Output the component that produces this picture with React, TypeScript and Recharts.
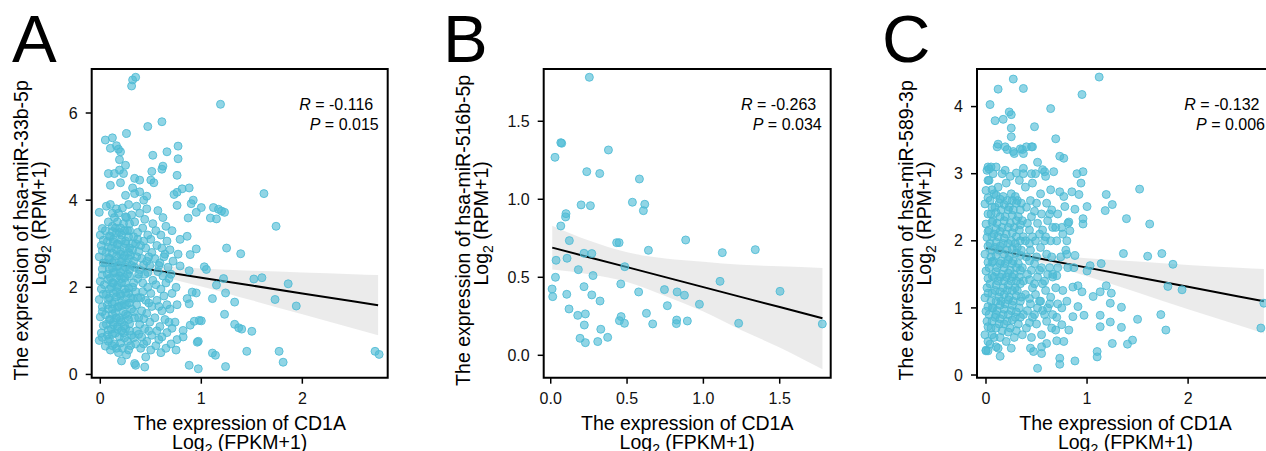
import React from 'react';
import { ComposedChart, Scatter, Line, Area, XAxis, YAxis, ReferenceArea } from 'recharts';

const FONT = '"Liberation Sans", Arial, Helvetica, sans-serif';
const POINT = '#4DBBD5';

// ---------- Panel A: hsa-miR-33b-5p ----------
const aPoints: [number, number][] = [
  [0.32,6.76],[0.35,6.82],[0.31,6.62],[1.19,6.2],[0.61,5.8],[0.47,5.69],[0.26,5.53],[0.05,5.38],[0.12,5.43],[0.10,5.19],
  [0.16,5.25],[0.18,5.17],[0.20,5.11],[0.77,5.24],[0.52,5.03],[0.66,5.11],[0.77,4.95],[0.19,4.93],[0.25,4.80],[0.51,4.66],
  [0.62,4.78],[0.61,4.71],[0.08,4.61],[0.14,4.61],[0.23,4.61],[0.19,4.69],[0.76,4.57],[0.50,4.46],[0.53,4.40],[0.34,4.50],
  [0.39,4.46],[0.10,4.34],[0.20,4.40],[0.32,4.28],[0.25,4.11],[0.34,4.15],[0.39,4.19],[0.73,4.13],[0.76,4.18],[0.81,4.26],
  [0.88,4.28],[1.62,4.15],[0.46,4.09],[0.43,4.00],[0.92,4.00],[0.90,3.92],[1.00,3.83],[0.95,3.72],[1.12,3.83],[1.17,3.79],
  [1.23,3.72],[1.20,3.75],[1.09,3.59],[1.15,3.57],[0.76,3.88],[0.87,3.59],[1.74,3.40],[0.79,3.10],[0.86,3.17],[0.95,2.88],
  [0.89,2.75],[1.25,2.90],[1.39,2.77],[1.03,2.47],[1.05,2.41],[0.79,2.49],[0.88,2.38],[1.52,2.19],[1.60,2.22],[1.86,2.08],
  [1.15,2.05],[1.22,2.20],[1.24,1.87],[1.33,1.66],[1.11,1.74],[1.73,1.72],[1.94,1.57],[0.91,1.89],[0.95,1.87],[0.86,1.74],
  [0.88,1.62],[1.23,1.38],[1.33,1.15],[1.37,1.07],[1.40,1.04],[1.50,0.99],[1.00,1.23],[0.93,1.22],[0.89,1.13],[0.82,1.01],
  [0.82,0.86],[0.97,0.76],[1.11,0.49],[1.14,0.44],[1.45,0.53],[1.77,0.53],[1.81,0.28],[2.72,0.53],[2.76,0.46],[0.88,0.21],
  [0.97,0.13],[1.24,0.18],[0.44,0.17],[0.34,0.25],[0.35,0.21],[0.21,0.31],[0.98,1.24],[0.96,0.74],
  [-0.01,0.78],[0.01,0.95],[0.0,1.32],[0.02,1.55],[-0.01,1.72],[0.01,1.96],[0.0,2.14],[0.02,2.42],[-0.01,2.7],[0.01,2.96],[0.0,3.2],[-0.01,3.72],
  [0.05,0.65],[0.07,0.9],[0.06,1.15],[0.05,1.37],[0.07,1.6],[0.06,1.84],[0.04,2.06],[0.07,2.3],[0.05,2.56],[0.06,2.8],[0.07,3.05],[0.05,3.3],[0.06,3.86],
  [0.1,0.56],[0.09,0.82],[0.11,1.04],[0.1,1.26],[0.12,1.5],[0.09,1.76],[0.11,2.0],[0.1,2.22],[0.12,2.45],[0.09,2.66],[0.11,2.9],[0.1,3.16],[0.12,3.4],[0.1,3.9],
  [0.14,0.7],[0.15,0.95],[0.13,1.2],[0.15,1.42],[0.14,1.66],[0.16,1.9],[0.13,2.1],[0.15,2.34],[0.14,2.6],[0.16,2.86],[0.13,3.1],[0.15,3.36],[0.14,3.6],[0.16,3.8],
  [0.18,0.5],[0.19,0.86],[0.17,1.1],[0.19,1.3],[0.18,1.56],[0.2,1.8],[0.17,2.04],[0.19,2.26],[0.18,2.5],[0.2,2.76],[0.17,3.0],[0.19,3.26],[0.18,3.7],
  [0.22,0.6],[0.23,0.95],[0.21,1.2],[0.23,1.44],[0.22,1.7],[0.24,1.96],[0.21,2.2],[0.23,2.4],[0.22,2.66],[0.24,2.9],[0.21,3.2],[0.23,3.46],[0.22,3.82],
  [0.26,0.45],[0.27,0.76],[0.25,1.05],[0.27,1.35],[0.26,1.6],[0.28,1.86],[0.25,2.1],[0.27,2.3],[0.26,2.56],[0.28,2.8],[0.25,3.06],[0.27,3.3],[0.26,3.6],[0.28,3.9],
  [0.3,0.66],[0.31,0.9],[0.29,1.16],[0.31,1.5],[0.3,1.76],[0.32,2.0],[0.29,2.26],[0.31,2.5],[0.3,2.74],[0.32,3.0],[0.29,3.3],[0.31,3.66],
  [0.35,0.7],[0.36,1.0],[0.34,1.3],[0.36,1.6],[0.35,1.9],[0.37,2.2],[0.34,2.46],[0.36,2.7],[0.35,3.0],[0.37,3.26],[0.34,3.5],[0.36,3.86],
  [0.4,0.6],[0.41,0.86],[0.39,1.15],[0.41,1.46],[0.4,1.76],[0.42,2.1],[0.39,2.4],[0.41,2.66],[0.4,2.96],[0.42,3.36],[0.39,3.7],
  [0.45,0.4],[0.46,0.76],[0.44,1.05],[0.46,1.4],[0.45,1.7],[0.47,2.0],[0.44,2.3],[0.46,2.6],[0.45,2.9],[0.47,3.2],[0.44,3.56],[0.46,3.8],
  [0.5,0.56],[0.51,0.9],[0.49,1.2],[0.51,1.56],[0.5,1.86],[0.52,2.16],[0.49,2.5],[0.51,2.8],[0.5,3.1],[0.52,3.46],
  [0.55,0.66],[0.56,1.0],[0.54,1.3],[0.56,1.7],[0.55,2.06],[0.57,2.36],[0.54,2.66],[0.56,2.96],[0.55,3.3],[0.57,3.76],
  [0.6,0.5],[0.61,0.86],[0.59,1.1],[0.61,1.46],[0.6,1.96],[0.62,2.26],[0.59,2.56],[0.61,2.9],[0.6,3.2],[0.62,3.6],
  [0.65,0.6],[0.66,0.96],[0.64,1.26],[0.66,1.6],[0.65,2.1],[0.67,2.46],[0.64,2.76],[0.66,3.06],[0.65,3.4],
  [0.7,0.7],[0.71,1.06],[0.69,1.5],[0.71,1.86],[0.7,2.3],[0.72,2.6],[0.69,2.86],[0.71,3.3],
  [0.75,0.56],[0.76,0.8],[0.74,1.2],[0.76,1.6],[0.75,2.0],[0.77,2.76],
  [0.02,0.85],[0.03,1.12],[0.02,1.44],[0.03,1.84],[0.02,2.28],[0.03,2.56],[0.02,2.84],[0.03,3.08],[0.02,3.35],
  [0.08,0.76],[0.08,1.02],[0.09,1.26],[0.08,1.5],[0.08,1.72],[0.09,1.96],[0.08,2.18],[0.09,2.42],[0.08,2.68],[0.08,2.92],[0.09,3.18],[0.08,3.5],
  [0.12,0.66],[0.12,0.92],[0.13,1.14],[0.12,1.38],[0.12,1.62],[0.13,1.86],[0.12,2.1],[0.13,2.34],[0.12,2.56],[0.12,2.78],[0.13,3.04],[0.12,3.28],[0.12,3.7],
  [0.16,0.6],[0.17,1.04],[0.16,1.3],[0.17,1.54],[0.16,1.78],[0.17,2.0],[0.16,2.22],[0.17,2.48],[0.16,2.72],[0.17,2.98],[0.16,3.24],[0.17,3.5],
  [0.2,0.72],[0.21,1.0],[0.2,1.24],[0.21,1.58],[0.2,1.84],[0.21,2.1],[0.2,2.34],[0.21,2.58],[0.2,2.82],[0.21,3.08],[0.2,3.36],
  [0.24,0.84],[0.24,1.12],[0.25,1.38],[0.24,1.62],[0.25,1.88],[0.24,2.22],[0.25,2.46],[0.24,2.72],[0.25,3.0],[0.24,3.3],[0.25,3.62],
  [0.28,0.56],[0.29,1.0],[0.28,1.26],[0.29,1.64],[0.28,1.98],[0.29,2.4],[0.28,2.66],[0.29,2.9],[0.28,3.16],[0.29,3.46],
  [0.33,0.84],[0.33,1.44],[0.32,1.74],[0.33,2.1],[0.33,2.6],[0.32,2.86],[0.33,3.16],
  [0.38,0.92],[0.38,1.3],[0.37,1.76],[0.38,2.3],[0.38,2.82],[0.37,3.1],
  [0.43,0.7],[0.43,1.28],[0.42,1.9],[0.43,2.52],[0.43,3.06],
  [0.48,1.0],[0.48,1.64],[0.47,2.34],[0.48,2.7],
  [0.58,0.8],[0.58,1.56],[0.58,2.5],[0.63,1.8],[0.63,2.7],[0.68,2.2],[0.68,1.2],
];
const aFitX = [0, 0.4, 1, 1.5, 2, 2.5, 2.75];
const aFit = [2.58, 2.44, 2.22, 2.04, 1.86, 1.68, 1.59];
const aBandLow = [2.42, 2.33, 2.02, 1.70, 1.38, 1.06, 0.90];
const aBandHigh = [2.74, 2.55, 2.43, 2.38, 2.34, 2.30, 2.28];
const aXTicks = [0, 1, 2];
const aYTicks = [0, 2, 4, 6];
const aStats = ['-0.116', '0.015'];

// ---------- Panel B: hsa-miR-516b-5p ----------
const bPoints: [number, number][] = [
  [0.253,1.782],[0.378,1.316],[0.066,1.363],[0.072,1.359],[0.028,1.269],[0.236,1.177],[0.321,1.165],[0.581,1.13],
  [0.199,0.964],[0.26,0.959],[0.535,0.981],[0.616,0.968],[0.607,0.927],[0.1,0.908],[0.098,0.887],[0.066,0.829],
  [0.122,0.735],[0.432,0.722],[0.448,0.722],[0.884,0.739],[0.64,0.673],[1.34,0.677],[1.124,0.658],[0.035,0.609],
  [0.107,0.622],[0.218,0.654],[0.269,0.652],[0.485,0.568],[0.181,0.549],[0.031,0.5],[0.277,0.511],[1.109,0.474],
  [0.459,0.457],[0.009,0.425],[0.013,0.376],[0.218,0.44],[0.105,0.391],[0.269,0.387],[0.576,0.406],[0.745,0.421],
  [0.828,0.406],[0.876,0.385],[1.502,0.41],[0.323,0.348],[0.974,0.327],[0.764,0.318],[0.12,0.297],[0.177,0.256],
  [0.227,0.265],[0.461,0.248],[0.45,0.222],[0.483,0.205],[0.627,0.269],[0.668,0.201],[0.825,0.226],[0.823,0.203],
  [0.895,0.22],[1.231,0.205],[1.779,0.201],[0.22,0.194],[0.328,0.167],[0.373,0.115],[0.192,0.109],[0.227,0.081],[0.308,0.088],
];
const bFitX = [0.01, 0.25, 0.5, 0.75, 1.0, 1.25, 1.5, 1.78];
const bFit = [0.69, 0.629, 0.565, 0.501, 0.437, 0.373, 0.309, 0.237];
const bBandLow = [0.55, 0.52, 0.47, 0.38, 0.28, 0.16, 0.05, -0.09];
const bBandHigh = [0.83, 0.735, 0.66, 0.62, 0.60, 0.58, 0.57, 0.56];
const bXTicks = [0, 0.5, 1, 1.5];
const bYTicks = [0, 0.5, 1, 1.5];
const bStats = ['-0.263', '0.034'];

// ---------- Panel C: hsa-miR-589-3p ----------
const cPoints: [number, number][] = [
  [0.27,4.41],[1.12,4.44],[0.12,4.26],[0.37,4.27],[0.95,4.18],[0.04,4.03],[0.64,3.97],[0.09,3.79],[0.17,3.81],[0.23,3.92],
  [0.25,3.88],[0.11,3.40],[0.12,3.44],[0.25,3.68],[0.25,3.55],[0.48,3.70],[0.69,3.52],[0.19,3.40],[0.27,3.33],[0.34,3.37],
  [0.40,3.40],[0.46,3.40],[0.37,3.30],[0.73,3.26],[0.77,3.23],[0.02,3.10],[0.03,3.07],[0.19,3.05],[0.30,3.01],[0.37,3.08],
  [0.45,3.00],[0.51,3.17],[0.58,3.03],[0.67,3.03],[0.90,3.00],[0.96,3.03],[0.94,2.86],[1.52,2.77],[1.19,2.69],[1.25,2.54],
  [1.18,2.45],[1.00,2.51],[0.96,2.33],[0.96,2.25],[1.39,2.33],[1.62,2.25],[0.88,2.47],[0.78,2.51],[0.73,2.73],[0.77,2.66],
  [0.85,2.73],[0.92,2.69],[1.36,1.81],[1.60,1.77],[1.74,1.81],[1.85,1.65],[1.80,1.32],[1.94,1.27],[2.75,1.07],[2.72,0.70],
  [1.73,0.90],[1.78,0.67],[1.50,0.83],[1.34,1.01],[1.23,1.07],[1.24,1.22],[1.19,1.33],[1.06,1.17],[1.13,1.24],[1.13,0.89],
  [1.13,0.72],[1.23,0.79],[1.34,0.71],[1.25,0.47],[1.40,0.46],[1.45,0.52],[1.10,0.35],[1.10,0.27],[0.88,0.21],[0.73,0.25],
  [0.73,0.16],[0.51,0.10],[1.00,1.55],[1.03,1.63],[1.14,1.66],[0.95,1.24],[0.91,1.33],[0.86,1.31],[0.91,1.02],[0.97,0.89],
  [0.86,0.87],[0.82,0.67],[0.75,0.75],[0.69,0.67],[0.77,0.50],[0.70,0.51],[0.47,0.35],[0.44,0.40],[0.55,0.42],[0.60,0.47],
  [0.55,0.32],[0.25,0.40],[0.14,0.28],[0.10,0.42],[0.00,0.37],[0.02,0.36],[0.80,1.80],[0.88,1.78],[0.83,2.15],[0.82,2.28],
  [0.87,1.60],[0.66,1.50],[0.70,1.48],
  [0.0,0.36],[-0.01,0.6],[0.01,0.8],[0.0,0.95],[-0.01,1.15],[0.01,1.3],[0.0,1.55],[-0.01,1.8],[0.01,2.05],[0.0,2.25],[-0.01,2.55],[0.0,2.75],[0.01,3.05],
  [0.04,0.46],[0.05,0.7],[0.03,0.9],[0.05,1.1],[0.04,1.36],[0.03,1.6],[0.05,1.76],[0.04,1.96],[0.03,2.16],[0.05,2.4],[0.04,2.6],[0.03,2.9],[0.05,3.1],
  [0.08,0.56],[0.09,0.86],[0.07,1.0],[0.09,1.26],[0.08,1.46],[0.07,1.7],[0.09,1.9],[0.08,2.1],[0.07,2.3],[0.09,2.5],[0.08,2.7],[0.07,3.0],
  [0.12,0.4],[0.13,0.76],[0.11,0.96],[0.13,1.16],[0.12,1.4],[0.11,1.6],[0.13,1.86],[0.12,2.06],[0.11,2.26],[0.13,2.56],[0.12,2.8],
  [0.16,0.66],[0.17,0.9],[0.15,1.1],[0.17,1.3],[0.16,1.5],[0.15,1.7],[0.17,1.96],[0.16,2.2],[0.15,2.46],[0.17,2.66],[0.16,3.0],
  [0.2,0.5],[0.21,0.8],[0.19,1.06],[0.21,1.26],[0.2,1.46],[0.19,1.66],[0.21,1.86],[0.2,2.1],[0.19,2.36],[0.21,2.6],[0.2,2.86],[0.21,3.36],
  [0.24,0.7],[0.25,0.96],[0.23,1.16],[0.25,1.4],[0.24,1.56],[0.23,1.76],[0.25,2.0],[0.24,2.26],[0.23,2.5],[0.25,2.7],[0.24,2.96],
  [0.28,0.56],[0.29,0.86],[0.27,1.1],[0.29,1.3],[0.28,1.5],[0.27,1.7],[0.29,1.96],[0.28,2.2],[0.27,2.46],[0.29,2.66],[0.28,3.3],
  [0.32,0.76],[0.33,1.0],[0.31,1.26],[0.33,1.46],[0.32,1.66],[0.31,1.9],[0.33,2.16],[0.32,2.36],[0.31,2.6],[0.33,2.9],
  [0.36,0.6],[0.37,0.9],[0.35,1.16],[0.37,1.4],[0.36,1.6],[0.35,1.86],[0.37,2.06],[0.36,2.3],[0.35,2.56],[0.37,3.0],[0.36,3.36],
  [0.4,0.7],[0.41,0.96],[0.39,1.2],[0.41,1.5],[0.4,1.76],[0.39,2.0],[0.41,2.26],[0.4,2.5],[0.39,2.8],
  [0.45,0.56],[0.46,0.86],[0.44,1.06],[0.46,1.3],[0.45,1.56],[0.44,1.86],[0.46,2.06],[0.45,2.36],[0.44,2.6],[0.46,2.86],[0.45,3.4],
  [0.5,0.76],[0.51,1.0],[0.49,1.2],[0.51,1.46],[0.5,1.76],[0.49,2.0],[0.51,2.26],[0.5,2.56],[0.49,3.0],
  [0.55,0.6],[0.56,0.96],[0.54,1.1],[0.56,1.36],[0.55,1.6],[0.54,1.9],[0.56,2.16],[0.55,2.4],[0.54,2.7],[0.56,3.06],
  [0.6,0.8],[0.61,1.0],[0.59,1.26],[0.61,1.5],[0.6,1.8],[0.59,2.06],[0.61,2.3],[0.6,2.56],[0.59,2.96],
  [0.65,0.7],[0.66,0.9],[0.64,1.16],[0.66,1.46],[0.65,1.76],[0.64,2.0],[0.66,2.2],[0.65,2.46],[0.64,2.76],
  [0.7,0.86],[0.71,1.06],[0.69,1.3],[0.71,1.6],[0.7,2.0],[0.69,2.2],[0.71,2.4],
  [0.75,1.0],[0.76,1.26],[0.74,1.76],[0.76,2.1],[0.75,2.2],
  [0.8,1.1],[0.81,1.6],[0.79,1.86],[0.8,2.0],[0.81,2.26],
  [0.02,0.5],[0.02,0.72],[0.02,1.02],[0.02,1.22],[0.02,1.44],[0.02,1.68],[0.02,1.92],[0.02,2.14],[0.02,2.4],[0.02,2.64],[0.02,2.9],
  [0.06,0.6],[0.06,0.8],[0.06,1.0],[0.06,1.22],[0.06,1.48],[0.06,1.68],[0.06,1.86],[0.06,2.06],[0.06,2.28],[0.06,2.5],[0.06,2.76],
  [0.1,0.7],[0.1,0.9],[0.1,1.1],[0.1,1.34],[0.1,1.54],[0.1,1.78],[0.1,1.98],[0.1,2.18],[0.1,2.42],[0.1,2.68],[0.1,3.1],
  [0.14,0.56],[0.14,0.84],[0.14,1.04],[0.14,1.24],[0.14,1.46],[0.14,1.66],[0.14,1.92],[0.14,2.14],[0.14,2.36],[0.14,2.62],
  [0.18,0.76],[0.18,0.98],[0.18,1.2],[0.18,1.4],[0.18,1.6],[0.18,1.8],[0.18,2.04],[0.18,2.3],[0.18,2.54],
  [0.22,0.64],[0.22,0.9],[0.22,1.12],[0.22,1.34],[0.22,1.52],[0.22,1.72],[0.22,1.96],[0.22,2.2],[0.22,2.46],
  [0.26,0.82],[0.26,1.04],[0.26,1.26],[0.26,1.46],[0.26,1.66],[0.26,1.88],[0.26,2.12],[0.26,2.38],[0.26,2.6],
  [0.3,0.66],[0.3,0.94],[0.3,1.18],[0.3,1.4],[0.3,1.6],[0.3,1.82],[0.3,2.06],[0.3,2.3],[0.3,2.56],
  [0.34,0.86],[0.34,1.1],[0.34,1.36],[0.34,1.56],[0.34,1.78],[0.34,2.0],[0.34,2.24],[0.34,2.46],
  [0.43,0.78],[0.43,1.14],[0.43,1.42],[0.43,1.7],[0.43,1.96],[0.43,2.16],[0.48,0.9],[0.48,1.36],[0.48,1.66],[0.48,2.44],
  [0.53,1.1],[0.53,1.56],[0.53,2.1],[0.58,0.9],[0.58,1.4],[0.58,2.0],[0.63,1.06],[0.63,1.6],[0.63,2.4],
];
const cFitX = [0, 0.4, 1, 1.5, 2, 2.5, 2.75];
const cFit = [1.89, 1.775, 1.60, 1.458, 1.314, 1.17, 1.098];
const cBandLow = [1.79, 1.72, 1.47, 1.23, 0.98, 0.74, 0.62];
const cBandHigh = [1.99, 1.83, 1.74, 1.69, 1.64, 1.60, 1.58];
const cXTicks = [0, 1, 2];
const cYTicks = [0, 1, 2, 3, 4];
const cStats = ['-0.132', '0.006'];

const Dot = (props: any) => {
  const { cx, cy } = props;
  if (cx == null || cy == null) return null;
  return (
    <circle cx={cx} cy={cy} r={4} fill={POINT} fillOpacity={0.62} stroke={POINT} strokeOpacity={0.85} strokeWidth={1} />
  );
};

const TOP = 69;
const H = 451;
const XAXIS_H = 73.3;
const PLOT_H = H - TOP - XAXIS_H;

type PanelProps = {
  left: number; width: number; yAxisWidth: number; marginRight: number;
  points: [number, number][]; fitX: number[]; fit: number[]; lo: number[]; hi: number[];
  xDomain: [number, number]; yDomain: [number, number]; xTicks: number[]; yTicks: number[];
  fmt: (v: number) => string; title: string; titleOffset: number; stats: string[];
};

function Panel(p: PanelProps) {
  const fitData = p.fitX.map((x, i) => ({ x, fit: p.fit[i], band: [p.lo[i], p.hi[i]] }));
  const pts = p.points.map(([x, y]) => ({ x, y }));
  const tickStyle = { fill: '#111', fontSize: 16, fontFamily: FONT };
  const plotLeft = p.yAxisWidth;
  const plotRight = p.width - p.marginRight;
  const cx = (plotLeft + plotRight) / 2;
  const cy = TOP + PLOT_H / 2;
  const b1 = plotLeft - p.titleOffset;
  const b2 = b1 + 18.5;
  const xBase = TOP + PLOT_H;
  return (
    <div style={{ position: 'absolute', left: p.left, top: 0, width: p.width, height: H }}>
      <ComposedChart width={p.width} height={H} data={fitData} margin={{ top: TOP, right: p.marginRight, bottom: 0, left: 0 }}>
        <XAxis type="number" dataKey="x" domain={p.xDomain} ticks={p.xTicks} allowDataOverflow interval={0}
          tickFormatter={p.fmt} height={XAXIS_H} axisLine={false} tickLine={{ stroke: '#000', strokeWidth: 1.5 }}
          tickSize={6} tickMargin={9} tick={tickStyle} />
        <YAxis type="number" dataKey="y" domain={p.yDomain} ticks={p.yTicks} allowDataOverflow interval={0}
          tickFormatter={p.fmt} width={p.yAxisWidth} axisLine={false} tickLine={{ stroke: '#000', strokeWidth: 1.5 }}
          tickSize={6} tickMargin={8} tick={tickStyle} />
        <Scatter data={pts} isAnimationActive={false} shape={<Dot />} />
        <Area dataKey="band" type="monotone" stroke="none" fill="#999999" fillOpacity={0.2} isAnimationActive={false} activeDot={false} />
        <Line dataKey="fit" type="linear" stroke="#000" strokeWidth={2} dot={false} activeDot={false} isAnimationActive={false} />
        <ReferenceArea x1={p.xDomain[0]} x2={p.xDomain[1]} y1={p.yDomain[0]} y2={p.yDomain[1]}
          stroke="#000" strokeWidth={2} fill="none" fillOpacity={0} ifOverflow="visible" />
      </ComposedChart>
      <svg width={p.width} height={H} style={{ position: 'absolute', left: 0, top: 0, pointerEvents: 'none' }}>
        <g fontFamily={FONT} fontSize={16} fill="#000" textAnchor="end">
          <text x={plotRight - 14.5} y={110}><tspan fontStyle="italic">R</tspan> = {p.stats[0]}</text>
          <text x={plotRight - 9} y={130}><tspan fontStyle="italic">P</tspan> = {p.stats[1]}</text>
        </g>
        <g fontFamily={FONT} fontSize={19.5} fill="#000">
          <text textAnchor="middle" x={cx} y={xBase + 52.5}>The expression of CD1A</text>
          <text textAnchor="middle" x={cx} y={xBase + 71}>
            Log<tspan dy={5} fontSize={14}>2</tspan><tspan dy={-5}> (FPKM+1)</tspan>
          </text>
          <text transform={`rotate(-90 ${b1} ${cy + 7})`} x={b1} y={cy + 7} textAnchor="middle">{p.title}</text>
          <text transform={`rotate(-90 ${b2} ${cy})`} x={b2} y={cy} textAnchor="middle">
            Log<tspan dy={5} fontSize={14}>2</tspan><tspan dy={-5}> (RPM+1)</tspan>
          </text>
        </g>
      </svg>
    </div>
  );
}

const int = (v: number) => String(v);
const one = (v: number) => v.toFixed(1);

export default function App() {
  return (
    <div style={{ position: 'absolute', left: 0, top: 0, width: 1266, height: 451, overflow: 'hidden', background: '#fff' }}>
      <Panel left={0} width={420} yAxisWidth={91.7} marginRight={32.3} points={aPoints} fitX={aFitX} fit={aFit}
        lo={aBandLow} hi={aBandHigh} xDomain={[-0.085, 2.845]} yDomain={[-0.075, 7.01]} xTicks={aXTicks} yTicks={aYTicks}
        fmt={int} title="The expression of hsa-miR-33b-5p" titleOffset={64} stats={aStats} />
      <Panel left={440} width={420} yAxisWidth={103.7} marginRight={29.3} points={bPoints} fitX={bFitX} fit={bFit}
        lo={bBandLow} hi={bBandHigh} xDomain={[-0.046, 1.834]} yDomain={[-0.1436, 1.835]} xTicks={bXTicks} yTicks={bYTicks}
        fmt={one} title="The expression of hsa-miR-516b-5p" titleOffset={74} stats={bStats} />
      <Panel left={860} width={440} yAxisWidth={117} marginRight={26} points={cPoints} fitX={cFitX} fit={cFit}
        lo={cBandLow} hi={cBandHigh} xDomain={[-0.089, 2.85]} yDomain={[-0.04, 4.56]} xTicks={cXTicks} yTicks={cYTicks}
        fmt={int} title="The expression of hsa-miR-589-3p" titleOffset={64} stats={cStats} />
      <svg width={1266} height={451} style={{ position: 'absolute', left: 0, top: 0, pointerEvents: 'none' }}>
        <g fontFamily={FONT} fontSize={67} fill="#000">
          <text x={12} y={62}>A</text>
          <text x={443} y={62}>B</text>
          <text x={882} y={62}>C</text>
        </g>
      </svg>
    </div>
  );
}
